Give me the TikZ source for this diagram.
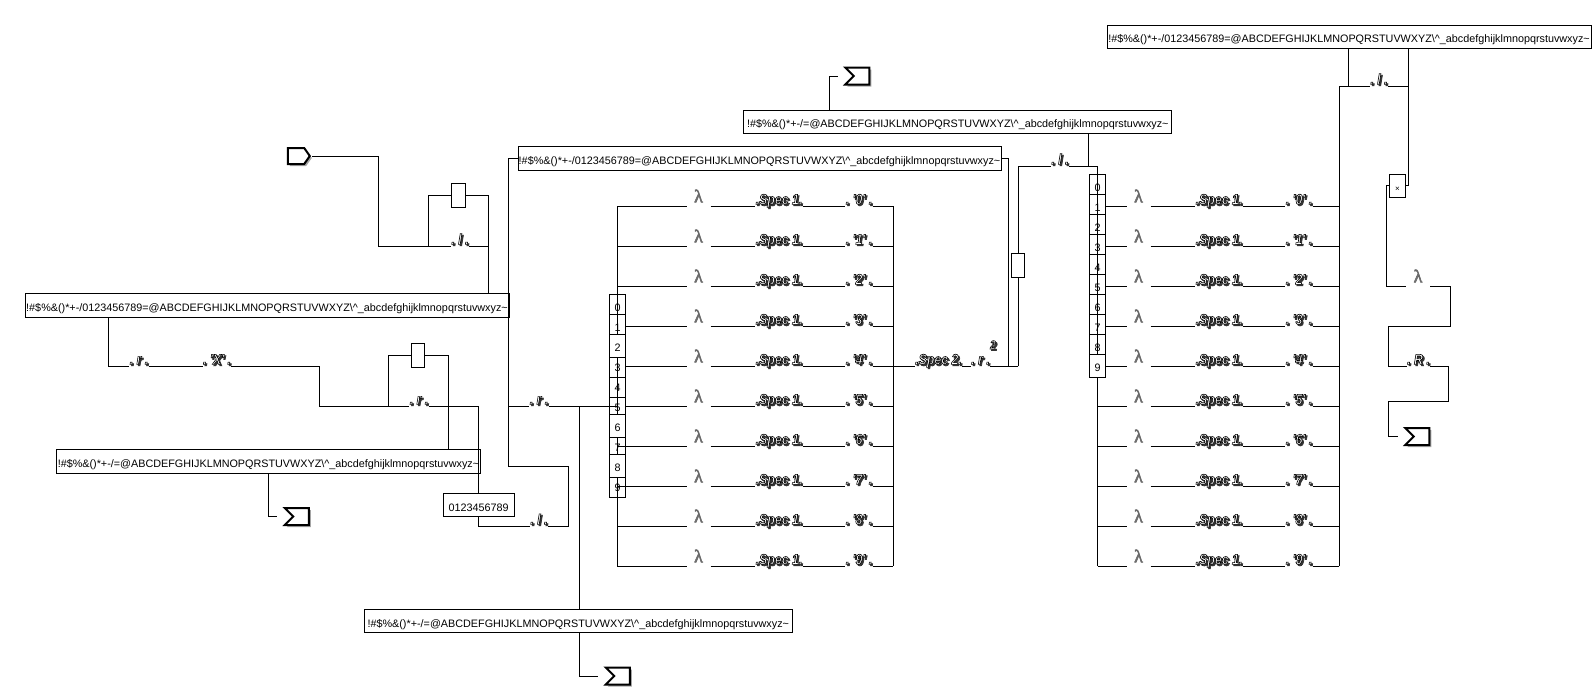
\documentclass[tikz,border=0pt]{standalone}
\usepackage{fontspec}
\setmainfont{Liberation Sans}
\newfontfamily\prtfont[FakeStretch=0.85]{Liberation Sans}
\newfontfamily\lamfont{Liberation Serif}
\usetikzlibrary{shapes.symbols,shadows}
\newcommand{\fullstr}{!\#\$\%\&()*+-/0123456789=@ABCDEFGHIJKLMNOPQRSTUVWXYZ\textbackslash\textasciicircum\_abcdefghijklmnopqrstuvwxyz\textasciitilde}
\newcommand{\shortstr}{!\#\$\%\&()*+-/=@ABCDEFGHIJKLMNOPQRSTUVWXYZ\textbackslash\textasciicircum\_abcdefghijklmnopqrstuvwxyz\textasciitilde}
\newcommand{\prt}[1]{\raisebox{2pt}[0pt][0pt]{%
\rlap{\kern1.5pt\raisebox{-1.5pt}{\color{black!80}\special{pdf:code q 2 Tr 0.7 w 0.2 G}#1\special{pdf:code Q}}}%
\color{white}\special{pdf:code q 2 Tr 0.6 w 0 G}#1\special{pdf:code Q}}}
\newcommand{\lam}{\raisebox{4pt}[0pt][0pt]{\special{pdf:code q 2 Tr 0.5 w 0.4 G}λ\special{pdf:code Q}}}
\begin{document}
\begin{tikzpicture}[x=1pt,y=-1pt,line width=1pt,
strbox/.style={%
draw,
fill=white,
minimum height=23.3pt,
inner sep=0pt,
text height=12pt,
text depth=0pt,
font=\fontsize{10.8}{12}\selectfont
},
gainbox/.style={%
draw,
fill=white,
minimum width=13.5pt,
minimum height=23.3pt,
inner sep=0pt
},
digit/.style={%
strbox,
minimum width=16.4pt
},
portlab/.style={%
inner sep=0pt,
font=\prtfont\bfseries\itshape\fontsize{14.5}{16}\selectfont
},
lamlab/.style={%
inner sep=0pt,
minimum width=23pt,
text=black!55,
font=\lamfont\fontsize{18}{20}\selectfont
},
srcin/.style={%
signal,
signal to=east,
signal pointer angle=110,
draw,
fill=white,
line width=2pt,
minimum width=22pt,
minimum height=16pt,
inner sep=0pt,
outer sep=2pt,
drop shadow={shadow xshift=2pt,shadow yshift=-2pt,fill=black!70}
},
sumsink/.style={%
signal,
signal from=west,
signal to=nowhere,
signal pointer angle=90,
draw,
fill=white,
line width=2pt,
minimum width=24pt,
minimum height=17pt,
inner sep=0pt,
drop shadow={shadow xshift=2pt,shadow yshift=-2pt,fill=black!70}
},
tosink/.style={shorten >=14.5pt},
]
\useasboundingbox(0,0)rectangle(1593,696);
%% long string blocks
\node[strbox,minimum width=484pt]at(267,305.5)(bufA){\fullstr};
\node[strbox,minimum width=483pt]at(759.5,158.5)(bufB){\fullstr};
\node[strbox,minimum width=424pt]at(268.5,461.5)(bufC){\shortstr};
\node[strbox,minimum width=427.5pt]at(578.3,621)(bufD){\shortstr};
\node[strbox,minimum width=427.7pt]at(957.8,121.7)(bufE){\shortstr};
\node[strbox,minimum width=484pt]at(1349,36.8)(bufF){\fullstr};
\node[strbox,minimum width=71pt]at(478.6,505)(numbox){0123456789};
%% sources and sinks
\node[srcin]at(296,156)(src){};
\node[sumsink]at(861.5,76)(sinkA){};
\node[sumsink]at(301,516.5)(sinkB){};
\node[sumsink]at(622,676)(sinkC){};
\node[sumsink]at(1421.5,436.5)(sinkD){};
%% small blocks
\node[gainbox]at(458.5,195.5)(gainA){};
\node[gainbox]at(418.2,355.5)(gainB){};
\node[gainbox]at(1018,265.5)(gainC){};
\node[digit,font=\fontsize{8}{9}\selectfont]at(1397.5,185.8)(mulbox){×};
%% labels on the left
\node[portlab]at(460,246.3)(lA){\prt{.\ l\ .}};
\node[portlab]at(139,366.3)(rA){\prt{.\ r\ .}};
\node[portlab]at(217,366.3)(xA){\prt{.\ 'X'\ .}};
\node[portlab]at(419,406.3)(rB){\prt{.\ r\ .}};
\node[portlab]at(539,406.3)(rC){\prt{.\ r\ .}};
\node[portlab]at(539,526.3)(lB){\prt{.\ l\ .}};
\node[portlab]at(938.5,366.3)(specB){\prt{.Spec 2.}};
\node[portlab]at(980.5,366.3)(rD){\prt{.\ r\ .}};
\node[portlab,font=\prtfont\bfseries\itshape\fontsize{12}{14}\selectfont]at(993,351)(pow){\prt{2}};
\node[portlab]at(1060,166.3)(lC){\prt{.\ l\ .}};
\node[portlab]at(1379,86.3)(lD){\prt{.\ l\ .}};
\node[lamlab]at(1418,286.3)(lamO){\lam};
\node[portlab]at(1418.5,366.3)(rE){\prt{.\ R\ .}};
%% both banks of rows
\foreach \i/\sa/\sb in {0/617.3/1105.7,1/617.3/1105.7,2/617.3/1105.7,3/625.7/1105.7,4/625.7/1105.7,5/625.7/1097.7,6/617.3/1097.7,7/617.3/1097.7,8/617.3/1097.7,9/617.3/1097.7}{
\pgfmathsetmacro{\yy}{206.3+40*\i}
\coordinate(stA\i)at(\sa,\yy);
\coordinate(busA\i)at(893,\yy);
\node[lamlab]at(698.5,\yy)(lamA\i){\lam};
\node[portlab]at(779,\yy)(specA\i){\prt{.Spec 1.}};
\node[portlab]at(859,\yy)(valA\i){\prt{.\ '\i'\ .}};
\coordinate(stB\i)at(\sb,\yy);
\coordinate(busB\i)at(1339.3,\yy);
\node[lamlab]at(1138.5,\yy)(lamB\i){\lam};
\node[portlab]at(1219,\yy)(specB\i){\prt{.Spec 1.}};
\node[portlab]at(1299,\yy)(valB\i){\prt{.\ '\i'\ .}};
}
%% selectors, the cells under the wires
\foreach \i in {0,1,5,4,3,7,9}{
\node[digit]at(617.5,305.9+20*\i)(selA\i){\i};
}
\foreach \i in {0,...,8}{
\node[digit]at(1097.5,185.9+20*\i)(selB\i){\i};
}
%% fixed points of the wires
\coordinate(a1)at(378,246.3);
\coordinate(a2)at(428,246.3);
\coordinate(a3)at(488,246.3);
\coordinate(b1)at(108,366.3);
\coordinate(b2)at(319,366.3);
\coordinate(b3)at(319,406.3);
\coordinate(b4)at(388,406.3);
\coordinate(b5)at(478.6,406.3);
\coordinate(b6)at(448,406.3);
\coordinate(b7)at(478.6,526.3);
\coordinate(b8)at(568.5,526.3);
\coordinate(b9)at(568.5,466.3);
\coordinate(b10)at(508.5,466.3);
\coordinate(b11)at(508.5,406.3);
\coordinate(b12)at(579,406.3);
\coordinate(b13)at(617.3,406.3);
\coordinate(c1)at(268.5,516.5);
\coordinate(c2)at(579,676);
\coordinate(c3)at(829,76);
\coordinate(d1)at(1008,366.3);
\coordinate(d2)at(1018,366.3);
\coordinate(d3)at(1018,166.3);
\coordinate(d4)at(1097.7,166.3);
\coordinate(d5)at(1088.3,166.3);
\coordinate(d6)at(1097.7,566.3);
\coordinate(e1)at(1339.3,86.3);
\coordinate(e2)at(1348.3,86.3);
\coordinate(e3)at(1408.3,86.3);
\coordinate(e4)at(1408.3,185.8);
\coordinate(f1)at(1386.3,185.8);
\coordinate(f2)at(1386.3,286.3);
\coordinate(f3)at(1450.3,286.3);
\coordinate(f4)at(1450.3,326.3);
\coordinate(f5)at(1388.3,326.3);
\coordinate(f6)at(1388.3,366.3);
\coordinate(f7)at(1448.7,366.3);
\coordinate(f8)at(1448.7,401.3);
\coordinate(f9)at(1388.3,401.3);
\coordinate(f10)at(1388.3,436.5);
%% wires
\draw(src)-|(a1)--(lA)--(a3)--(a3|-bufA.north);
\draw(a2)|-(gainA)-|(a3);
\draw(b1|-bufA.south)--(b1)--(rA)--(xA)--(b2)--(b3)--(rB)--(b5)--(numbox);
\draw(b4)|-(gainB)-|(b6|-bufC.north);
\draw(numbox.south-|b7)--(b7)--(lB)--(b8)--(b9)--(b10)|-(bufB);
\draw(b11)--(rC)--(b13);
\draw(b12|-bufD.north)--(b12);
\draw(b12|-bufD.south)--(c2);
\draw[tosink](c2)--(sinkC.west);
\draw(c1|-bufC.south)--(c1);
\draw[tosink](c1)--(sinkB.west);
\draw(c3|-bufE.north)--(c3);
\draw[tosink](c3)--(sinkA.west);
\draw(stA0)--(stA9);
\draw(d4)--(d6);
\foreach \i in {0,...,9}{
\draw(stA\i)--(lamA\i)--(specA\i)--(valA\i)--(busA\i);
\draw(stB\i)--(lamB\i)--(specB\i)--(valB\i)--(busB\i);
}
\draw(busA0)--(busA9);
\draw(busA4)--(specB)--(rD)--(d2);
\draw(bufB)-|(d1);
\draw(d2)--(gainC)--(d3)--(lC)--(d4);
\draw(d5|-bufE.south)--(d5);
\draw(busB9)--(e1)--(lD)--(e3);
\draw(e2|-bufF.south)--(e2);
\draw(e3|-bufF.south)--(e4)--(mulbox);
\draw(mulbox)--(f1)--(f2)--(lamO)--(f3)--(f4)--(f5)--(f6)--(rE)--(f7)--(f8)--(f9)--(f10);
\draw[tosink](f10)--(sinkD.west);
%% selector cells above the wires
\foreach \i in {2,6,8}{
\node[digit]at(617.5,305.9+20*\i)(selA\i){\i};
}
\node[digit]at(1097.5,365.9)(selB9){9};
\end{tikzpicture}
\end{document}
